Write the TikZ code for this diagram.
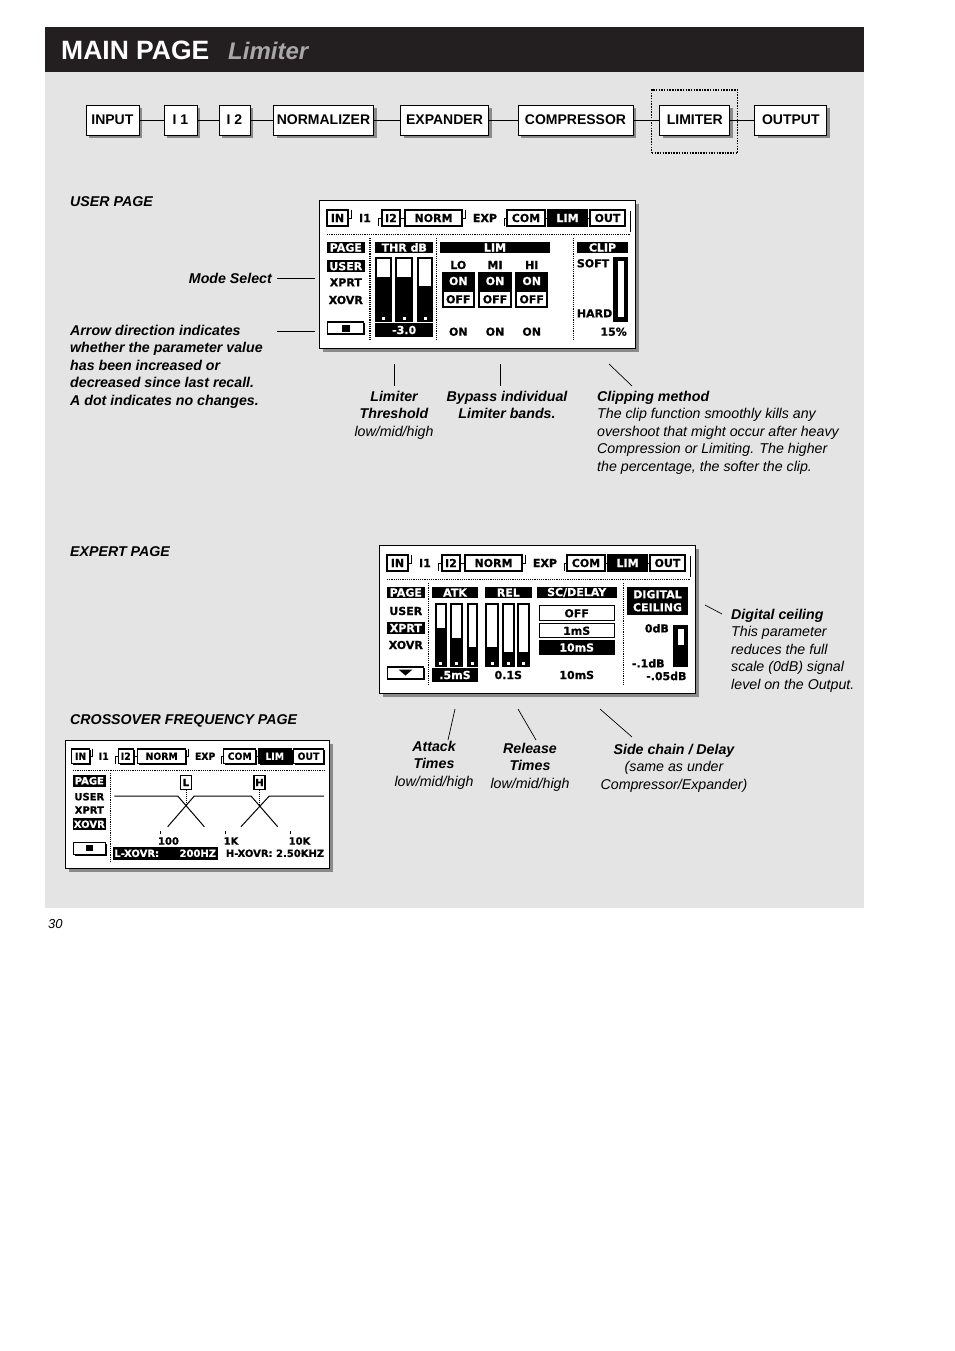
\documentclass[tikz,border=0pt]{standalone}
\usepackage{fontspec}
\setmainfont{Liberation Sans}
\newfontfamily\lcdfont{DejaVu Sans}[BoldFeatures={FakeBold=0.6}]
\usepackage{xcolor}
\usepackage{tikz}
\usetikzlibrary{positioning}
\usetikzlibrary{calc}
\usetikzlibrary{shadows}

\definecolor{pagegrey}{HTML}{E4E4E4}
\definecolor{headblack}{HTML}{231F20}
\definecolor{titlegrey}{HTML}{A8A8A8}
\definecolor{shadowgrey}{HTML}{8A8A8A}

\tikzset{
  stagebox/.style={draw, fill=white, line width=0.8pt, minimum height=30pt, inner sep=0pt,
    font=\bfseries\fontsize{14}{14}\selectfont,
    drop shadow={shadow xshift=3pt, shadow yshift=-3pt, fill=shadowgrey, opacity=1}},
  lcdframe/.style={draw, fill=white, line width=0.8pt, inner sep=0pt, anchor=north west,
    drop shadow={shadow xshift=4pt, shadow yshift=-4pt, fill=shadowgrey, opacity=1}},
  callhead/.style={font=\bfseries\itshape\fontsize{14.2}{17.5}\selectfont, inner sep=0pt},
  calltext/.style={font=\itshape\fontsize{14.2}{17.5}\selectfont, inner sep=0pt},
  lead/.style={line width=0.7pt},
  lcd/.style={font=\lcdfont\bfseries\fontsize{11}{12}\selectfont, inner sep=0pt},
  lcdsmall/.style={font=\lcdfont\bfseries\fontsize{10}{11}\selectfont, inner sep=0pt},
  lcdhead/.style={lcd, fill=black, text=white, minimum height=11.6pt},
  lcdtab/.style={lcd, draw, fill=white, line width=1.2pt, minimum height=16pt,
    drop shadow={shadow xshift=1.4pt, shadow yshift=-1.4pt, fill=black, opacity=1}},
  lcdsel/.style={lcd, draw, line width=1.3pt},
  lcddots/.style={densely dotted, line width=1.2pt},
}

% tab row of the display, #1 = prefix for the node names
\newcommand{\lcdtabs}[1]{%
  \node[lcdtab, minimum width=21pt] (#1-in) at (18.5,18) {IN};
  \node[lcd, minimum width=26pt, minimum height=16pt] (#1-i1) at (46,18) {I1};
  \node[lcdtab, minimum width=18pt] (#1-i2) at (72,18) {I2};
  \node[lcdtab, minimum width=57pt] (#1-norm) at (114.5,18) {NORM};
  \node[lcd, minimum width=38pt, minimum height=16pt] (#1-exp) at (166,18) {EXP};
  \node[lcdtab, minimum width=38pt] (#1-com) at (207,18) {COM};
  \node[lcdtab, minimum width=39pt, fill=black, text=white] (#1-lim) at (248.5,18) {LIM};
  \node[lcdtab, minimum width=35pt] (#1-out) at (288.5,18) {OUT};
  \draw[line width=0.9pt] (#1-in) -- (#1-i1) -- (#1-i2) -- (#1-norm) -- (#1-exp) -- (#1-com) -- (#1-lim) -- (#1-out);
  \draw[line width=0.9pt] (#1-i1.north west) -- (#1-i1.west) (#1-exp.north west) -- (#1-exp.west)
    (#1-i1.east) -- (#1-i1.south east) (#1-exp.east) -- (#1-exp.south east);
}

% level bar: x1, x2, top, bottom, end of the white part
\newcommand{\lcdbar}[5]{%
  \fill (#1,#3) rectangle (#2,#4);
  \fill[white] ([xshift=2pt,yshift=-2pt]#1,#3) rectangle ([xshift=-2pt]#2,#5);
  \fill[white] ($(#1,#4)!0.5!(#2,#4)+(-1.5,-4.5)$) rectangle +(3,2.5);
}

\begin{document}
\begin{tikzpicture}[x=1pt, y=-1pt]
  \useasboundingbox (0,0) rectangle (954,1351);
  \fill[white] (0,0) rectangle (954,1351);

  % page and title bar
  \fill[pagegrey] (45,72) rectangle (864,908);
  \fill[headblack] (45,27) rectangle (864,72);
  \node[anchor=base west, inner sep=0pt, text=white, font=\bfseries\fontsize{26.5}{26.5}\selectfont] (title) at (61,60) {MAIN PAGE};
  \node[anchor=base west, inner sep=0pt, text=titlegrey, font=\bfseries\itshape\fontsize{24}{24}\selectfont] (subtitle) at (228,60) {Limiter};

  % signal chain
  \node[stagebox, minimum width=53pt] (input) at (112.4,120) {INPUT};
  \node[stagebox, minimum width=33pt] (i1) at (180.5,120) {I 1};
  \node[stagebox, minimum width=31pt] (i2) at (234.5,120) {I 2};
  \node[stagebox, minimum width=100pt] (normalizer) at (323.5,120) {NORMALIZER};
  \node[stagebox, minimum width=88pt] (expander) at (444.5,120) {EXPANDER};
  \node[stagebox, minimum width=115pt] (compressor) at (575.5,120) {COMPRESSOR};
  \node[stagebox, minimum width=70pt] (limiter) at (694.8,120) {LIMITER};
  \node[stagebox, minimum width=72pt] (output) at (790.8,120) {OUTPUT};
  \draw[line width=0.8pt] (input) -- (i1) -- (i2) -- (normalizer) -- (expander) -- (compressor) -- (limiter) -- (output);
  \node[draw, dash pattern=on 1.5pt off 1.2pt, line width=1.2pt, minimum width=86pt, minimum height=63pt] (limsel) at (694.8,121.5) {};

  % user page display
  \node[callhead, anchor=north west] (userpage) at (70,196) {USER PAGE};
  \node[lcdframe, minimum width=316pt, minimum height=148pt] (userlcd) at (319,200) {};
  \begin{scope}[shift={(319,200)}]
    \lcdtabs{u}
    \draw[line width=1pt] (311,11) -- (311,32);
    \draw[lcddots] (8,34.5) -- (311,34.5);
    \foreach \x in {51,117.7,254.3} \draw[lcddots] (\x,38) -- (\x,141);
    \node[lcdhead, minimum width=38.3pt] (u-page) at (26.8,47.5) {PAGE};
    \node[lcdhead, minimum width=38.3pt, minimum height=12.3pt] (u-user) at (26.8,66.2) {USER};
    \node[lcd] (u-xprt) at (26.8,82.3) {XPRT};
    \node[lcd] (u-xovr) at (26.8,100) {XOVR};
    \node[lcdtab, minimum width=36pt, minimum height=12pt] (u-dot) at (26.8,128) {};
    \fill (23,125) rectangle (30.5,131.5);
    \node[lcdhead, minimum width=58.3pt] (u-thr) at (85.2,47.5) {THR dB};
    \lcdbar{56}{73.3}{56.7}{121.7}{76.7}
    \lcdbar{76}{94.3}{56.7}{121.7}{76.7}
    \lcdbar{97.7}{114.3}{56.7}{121.7}{85.7}
    \node[lcdhead, minimum width=58.3pt, minimum height=13.4pt] (u-thrval) at (85.2,130) {-3.0};
    \node[lcdhead, minimum width=110pt] (u-lim) at (176,47.5) {LIM};
    \foreach \x/\t/\n in {139.3/LO/lo, 176/MI/mi, 212.7/HI/hi}{
      \node[lcd] (u-band-\n) at (\x,65) {\t};
      \node[lcdhead, minimum width=33.3pt, minimum height=18.6pt] (u-on-\n) at (\x,81) {ON};
      \node[lcd, draw, line width=2pt, fill=white, minimum width=31.3pt, minimum height=16pt] (u-off-\n) at (\x,99.3) {OFF};
      \node[lcd] (u-state-\n) at (\x,131.7) {ON};
    }
    \node[lcdhead, minimum width=51.6pt] (u-clip) at (283.5,47.5) {CLIP};
    \node[lcd, anchor=west] (u-soft) at (257.7,63.3) {SOFT};
    \node[lcd, anchor=west] (u-hard) at (257.7,113.3) {HARD};
    \fill (294.3,56.7) rectangle (309.3,121.7);
    \fill[white] (299,60.5) rectangle (305,117);
    \node[lcd, anchor=east] (u-pct) at (308,131.7) {15\%};
  \end{scope}

  \node[callhead, anchor=north east] (modesel) at (272,273) {Mode Select};
  \draw[lead] ([xshift=5pt]modesel.east) -- ([xshift=-4pt]modesel.east -| userlcd.west);
  \node[callhead, anchor=north west, align=left] (arrownote) at (70,325) {Arrow direction indicates\\whether the parameter value\\has been increased or\\decreased since last recall.\\A dot indicates no changes.};
  \coordinate (arrowlead) at (277,331);
  \draw[lead] (arrowlead) -- ([xshift=-4pt]arrowlead -| userlcd.west);

  \node[calltext, anchor=north, align=center] (thrnote) at (394,391) {\textbf{Limiter}\\\textbf{Threshold}\\low/mid/high};
  \coordinate (thrlead) at (394,364);
  \draw[lead] (thrlead) -- ([yshift=5pt]thrlead |- thrnote.north);
  \node[callhead, anchor=north, align=center] (bypassnote) at (507,391) {Bypass individual\\Limiter bands.};
  \coordinate (bypasslead) at (500,364);
  \draw[lead] (bypasslead) -- ([yshift=5pt]bypasslead |- bypassnote.north);
  \node[calltext, anchor=north west, align=left] (clipnote) at (597,391) {\textbf{Clipping method}\\The clip function smoothly kills any\\overshoot that might occur after heavy\\Compression or Limiting. The higher\\the percentage, the softer the clip.};
  \coordinate (cliplead) at (609,364);
  \draw[lead] (cliplead) -- ([shift={(35pt,5pt)}]clipnote.north west);

  % expert page display
  \node[callhead, anchor=north west] (expertpage) at (70,546) {EXPERT PAGE};
  \node[lcdframe, minimum width=316pt, minimum height=148pt] (expertlcd) at (379,545) {};
  \begin{scope}[shift={(379,545)}]
    \lcdtabs{e}
    \draw[line width=1pt] (311,11) -- (311,32);
    \draw[lcddots] (8,34.5) -- (311,34.5);
    \foreach \x in {49.3,244.3} \draw[lcddots] (\x,38) -- (\x,141);
    \node[lcdhead, minimum width=38.3pt] (e-page) at (26.8,47.5) {PAGE};
    \node[lcd] (e-user) at (26.8,66) {USER};
    \node[lcdhead, minimum width=38.3pt] (e-xprt) at (26.8,83) {XPRT};
    \node[lcd] (e-xovr) at (26.8,100) {XOVR};
    \node[lcdtab, minimum width=36pt, minimum height=12pt] (e-arrow) at (26.8,128) {};
    \fill (19.5,124.5) -- (33.5,124.5) -- (26.5,130.5) -- cycle;
    \node[lcdhead, minimum width=46.6pt] (e-atk) at (76,47.5) {ATK};
    \lcdbar{56}{67.7}{58.3}{121.7}{83.3}
    \lcdbar{71}{84.3}{58.3}{121.7}{93.3}
    \lcdbar{87.7}{99.3}{58.3}{121.7}{101.7}
    \node[lcdhead, minimum width=46.6pt, minimum height=13.4pt] (e-atkval) at (76,130) {.5mS};
    \node[lcdhead, minimum width=46.7pt] (e-rel) at (129.3,47.5) {REL};
    \lcdbar{106}{120}{58.3}{121.7}{101.7}
    \lcdbar{122.7}{136}{58.3}{121.7}{106.7}
    \lcdbar{137.7}{151}{58.3}{121.7}{106.7}
    \node[lcd] (e-relval) at (129.3,130) {0.1S};
    \node[lcdhead, minimum width=80pt] (e-sc) at (197.7,47.5) {SC/DELAY};
    \node[lcdsel, fill=white, minimum width=75pt, minimum height=15pt] (e-off) at (197.7,68.3) {OFF};
    \node[lcdsel, fill=white, minimum width=75pt, minimum height=14pt] (e-1ms) at (197.7,85.8) {1mS};
    \node[lcdsel, fill=black, text=white, minimum width=75pt, minimum height=14pt] (e-10ms) at (197.7,102.5) {10mS};
    \node[lcd] (e-scval) at (197.7,130) {10mS};
    \node[lcdhead, minimum width=61.6pt, minimum height=28.3pt, align=center,
      font=\lcdfont\bfseries\fontsize{11}{13}\selectfont] (e-ceil) at (278.5,55.8) {DIGITAL\\CEILING};
    \node[lcd, anchor=east] (e-0db) at (290,83.3) {0dB};
    \fill (294.3,80) rectangle (309.3,121.7);
    \fill[white] (298.5,84) rectangle (305,100);
    \node[lcd, anchor=west] (e-1db) at (252.7,118.3) {-.1dB};
    \node[lcd, anchor=east] (e-05db) at (307.7,131) {-.05dB};
  \end{scope}

  \node[calltext, anchor=north west, align=left] (ceilnote) at (731,609) {\textbf{Digital ceiling}\\This parameter\\reduces the full\\scale (0dB) signal\\level on the Output.};
  \coordinate (ceillead) at (705,605);
  \draw[lead] (ceillead) -- ([shift={(-9pt,-5pt)}]ceilnote.north west);
  \node[calltext, anchor=north, align=center] (atknote) at (434,741) {\textbf{Attack}\\\textbf{Times}\\low/mid/high};
  \coordinate (atklead) at (455,709);
  \draw[lead] (atklead) -- ([shift={(14pt,1pt)}]atknote.north);
  \node[calltext, anchor=north, align=center] (relnote) at (530,743) {\textbf{Release}\\\textbf{Times}\\low/mid/high};
  \coordinate (rellead) at (518,709);
  \draw[lead] (rellead) -- ([shift={(6pt,3pt)}]relnote.north);
  \node[calltext, anchor=north, align=center] (scnote) at (674,744) {\textbf{Side chain / Delay}\\(same as under\\Compressor/Expander)};
  \coordinate (sclead) at (600,709);
  \draw[lead] (sclead) -- ([shift={(-42pt,7pt)}]scnote.north);

  % crossover page display
  \node[callhead, anchor=north west] (xovrpage) at (70,714) {CROSSOVER FREQUENCY PAGE};
  \node[lcdframe, minimum width=264pt, minimum height=128pt] (xovrlcd) at (65,740) {};
  \begin{scope}[shift={(65,740)}]
    \begin{scope}[xscale=0.844, yscale=0.9, transform shape]
      \lcdtabs{x}
    \end{scope}
    \draw[lcddots] (8,30.5) -- (261,30.5);
    \draw[lcddots] (45.3,33) -- (45.3,123);
    \node[lcdhead, lcdsmall, minimum width=33.3pt, minimum height=11.7pt] (x-page) at (24.3,40.8) {PAGE};
    \node[lcdsmall] (x-user) at (24.3,56.7) {USER};
    \node[lcdsmall] (x-xprt) at (24.3,70) {XPRT};
    \node[lcdhead, lcdsmall, minimum width=33.3pt, minimum height=11.7pt] (x-xovr) at (24.3,84.2) {XOVR};
    \node[lcdtab, minimum width=32pt, minimum height=12pt] (x-dot) at (24.3,108.3) {};
    \fill (21,105.3) rectangle (27.7,111.3);
    \draw[line width=1pt] (49.3,56) -- (112.7,56) -- (139.3,86.7);
    \draw[line width=1pt] (102.7,86.7) -- (129.3,56) -- (186,56) -- (212.7,86.7);
    \draw[line width=1pt] (176,86.7) -- (204.3,56) -- (259,56);
    \coordinate (x-lcross) at (121,65.6);
    \coordinate (x-hcross) at (194.5,65.6);
    \node[lcdsmall, draw, line width=1.3pt, fill=white, minimum width=11pt, minimum height=14pt] (x-lmark) at (121,42.5) {L};
    \node[lcdsmall, draw, line width=1.3pt, fill=white, minimum width=11pt, minimum height=14pt] (x-hmark) at (194.5,42.5) {H};
    \draw[densely dotted, line width=1pt] (x-lmark) -- (x-lcross);
    \draw[densely dotted, line width=1pt] (x-hmark) -- (x-hcross);
    \foreach \x/\t/\n in {103.5/100/a, 166/1K/b, 234.5/10K/c}{
      \node[lcdsmall] (x-freq-\n) at (\x,101) {\t};
      \draw[line width=1pt] ([xshift=2.5pt,yshift=3pt]x-freq-\n.north west) -- ++(0,-3.5);
    }
    \node[lcdhead, lcdsmall, minimum width=105pt, minimum height=13.3pt] (x-lxovr) at (100.2,113.3) {};
    \node[lcdsmall, text=white, anchor=west] (x-lxovr-name) at (x-lxovr.west) {\,L-XOVR:};
    \node[lcdsmall, text=white, anchor=east] (x-lxovr-val) at (x-lxovr.east) {200HZ\,};
    \node[lcdsmall] (x-hxovr) at (210,113.3) {H-XOVR: 2.50KHZ};
  \end{scope}

  \node[calltext, anchor=north west, font=\itshape\fontsize{13}{15}\selectfont] (pagenum) at (48,919) {30};
\end{tikzpicture}
\end{document}
